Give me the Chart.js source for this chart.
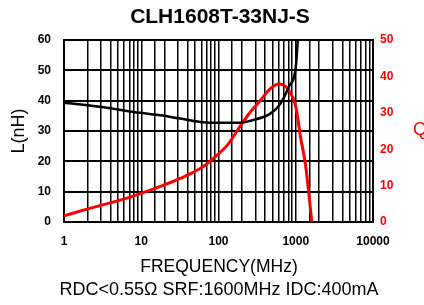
<!DOCTYPE html>
<html><head><meta charset="utf-8">
<script src="https://cdn.jsdelivr.net/npm/chart.js@4/dist/chart.umd.min.js"></script>
<style>html,body{margin:0;padding:0;background:#fff;overflow:hidden}</style>
</head><body>
<canvas id="c" width="424" height="305" style="display:block;width:424px;height:305px"></canvas>
<script>
const chartTitle = 'CLH1608T-33NJ-S';
const xTitle = 'FREQUENCY(MHz)';
const subTitle = 'RDC<0.55Ω SRF:1600MHz IDC:400mA';
const leftTitle = 'L(nH)';
const rightTitle = 'Q';
const xTickLabels = ['1', '10', '100', '1000', '10000'];
const leftTicks = [0, 10, 20, 30, 40, 50, 60];
const rightTicks = [0, 10, 20, 30, 40, 50];

// Inductance L (nH) vs frequency (MHz)
const lFreq   = [1,    2.9, 9.7, 17.7, 32,   58,   106,  193,  260,  473,  638,  812,  1000, 1063, 1150];
const lValues = [39.3, 38,  36,  35.2, 34.1, 33.0, 32.7, 32.7, 33.4, 35.8, 39.1, 44.6, 51,   60,   72];

// Q vs frequency (MHz)
const qFreq   = [1,   2.2, 5.3, 9.7, 17.7, 32, 58,   86,   131,  193,  260,  351,  473,  600,  780,  1000, 1161, 1338, 1614];
const qValues = [1.7, 3.8, 6,   7.8, 9.8,  12, 14.7, 17.5, 21.2, 26.5, 30.3, 33.5, 36.7, 37.9, 36.7, 31.7, 23,   15.7, 0];

const FONT = 'Liberation Sans, Arial, sans-serif';

const textPlugin = {
  id: 'texts',
  afterDraw(chart) {
    const ctx = chart.ctx;
    ctx.save();
    ctx.fillStyle = '#000';
    ctx.textAlign = 'center';
    ctx.textBaseline = 'middle';
    ctx.font = 'bold 21px ' + FONT;
    ctx.fillText(chartTitle, 220, 17);
    ctx.font = '17.5px ' + FONT;
    ctx.fillText(xTitle, 219, 267);
    ctx.font = '18px ' + FONT;
    ctx.fillText(subTitle, 219, 290);
    ctx.save();
    ctx.translate(19, 131);
    ctx.rotate(-Math.PI / 2);
    ctx.fillText(leftTitle, 0, 0);
    ctx.restore();
    ctx.fillStyle = '#ff0000';
    ctx.textAlign = 'left';
    ctx.fillText(rightTitle, 413, 130);
    ctx.restore();
  }
};

new Chart(document.getElementById('c'), {
  type: 'line',
  data: {
    datasets: [
      {
        label: 'L',
        data: lFreq.map((f, i) => ({x: f, y: lValues[i]})),
        borderColor: '#000',
        borderWidth: 2.5,
        pointRadius: 0,
        cubicInterpolationMode: 'monotone',
        yAxisID: 'y'
      },
      {
        label: 'Q',
        data: qFreq.map((f, i) => ({x: f, y: qValues[i]})),
        borderColor: '#ff0000',
        borderWidth: 3,
        pointRadius: 0,
        cubicInterpolationMode: 'monotone',
        yAxisID: 'y1'
      }
    ]
  },
  options: {
    responsive: false,
    animation: false,
    devicePixelRatio: 1,
    layout: {padding: {top: 40, left: 0, right: 0, bottom: 0}},
    plugins: {legend: {display: false}, tooltip: {enabled: false}, title: {display: false}},
    scales: {
      x: {
        type: 'logarithmic',
        position: 'bottom',
        min: 1, max: 10000,
        afterFit: s => { s.height = 83; },
        grid: {color: '#000', lineWidth: 1.5, drawTicks: false},
        border: {color: '#000', width: 2},
        ticks: {
          autoSkip: false, maxRotation: 0, minRotation: 0, padding: 12, color: '#000',
          font: {family: FONT, size: 12, weight: 'bold'},
          callback: v => { const s = String(v); return xTickLabels.includes(s) ? s : ''; }
        }
      },
      y: {
        position: 'left',
        min: 0, max: 60,
        afterFit: s => { s.width = 64; },
        afterBuildTicks: s => { s.ticks = leftTicks.map(v => ({value: v})); },
        grid: {color: '#000', lineWidth: 2, drawTicks: false},
        border: {color: '#000', width: 2},
        ticks: {padding: 13, color: '#000', font: {family: FONT, size: 12, weight: 'bold'}}
      },
      y1: {
        position: 'right',
        min: 0, max: 50,
        afterFit: s => { s.width = 51; },
        afterBuildTicks: s => { s.ticks = rightTicks.map(v => ({value: v})); },
        grid: {drawOnChartArea: false, drawTicks: false},
        border: {color: '#000', width: 2},
        ticks: {padding: 7, color: '#ff0000', font: {family: FONT, size: 12, weight: 'bold'}}
      }
    }
  },
  plugins: [textPlugin]
});
</script>
</body></html>
